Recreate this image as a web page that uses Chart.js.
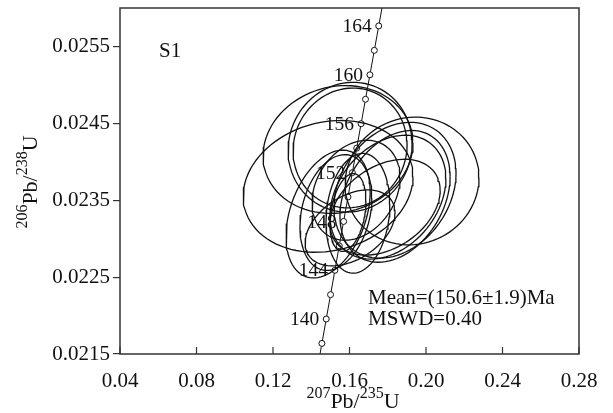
<!DOCTYPE html>
<html>
<head>
<meta charset="utf-8">
<script src="https://cdn.jsdelivr.net/npm/chart.js@4.4.1/dist/chart.umd.min.js"></script>
<style>
  html, body { margin: 0; padding: 0; background: #fff; }
  #wrap { width: 613px; height: 413px; }
</style>
</head>
<body>
<div id="wrap"><canvas id="chart"></canvas></div>
<script>
// axis ticks
const xTicks = [0.04, 0.08, 0.12, 0.16, 0.20, 0.24, 0.28];
const yTicks = [0.0215, 0.0225, 0.0235, 0.0245, 0.0255];

// concordia points, every 2 Ma
const concAges = [136, 138, 140, 142, 144, 146, 148, 150, 152, 154, 156, 158, 160, 162, 164, 166];
const concX = [0.143324, 0.145578, 0.147837, 0.150100, 0.152367, 0.154639, 0.156916, 0.159197,
               0.161482, 0.163773, 0.166067, 0.168366, 0.170670, 0.172978, 0.175291, 0.177608];
const concY = [0.021321, 0.021638, 0.021955, 0.022272, 0.022589, 0.022907, 0.023224, 0.023542,
               0.023859, 0.024177, 0.024495, 0.024813, 0.025131, 0.025449, 0.025767, 0.026085];
const labelAges = [140, 144, 148, 152, 156, 160, 164];

// error ellipses: centre, half width (207/235), half height (206/238), correlation
const ellX   = [0.1488, 0.1540, 0.1603, 0.1603, 0.1927, 0.1838, 0.1838, 0.1801,
                0.1488, 0.1529, 0.1644, 0.1592, 0.1634, 0.1603, 0.1786];
const ellY   = [0.02368, 0.02416, 0.02419, 0.02418, 0.02375, 0.02363, 0.02355, 0.02354,
                0.02332, 0.02334, 0.02333, 0.02334, 0.02363, 0.02314, 0.02341];
const ellSx  = [0.0444, 0.0392, 0.0324, 0.0298, 0.0350, 0.0319, 0.0288, 0.0303,
                0.0220, 0.0188, 0.0167, 0.0094, 0.0230, 0.0235, 0.0288];
const ellSy  = [0.000857, 0.000831, 0.000844, 0.000779, 0.000831, 0.000883, 0.000857, 0.000805,
                0.000831, 0.000753, 0.000779, 0.000506, 0.000650, 0.000494, 0.000623];
const ellRho = [0.15, 0.10, 0.05, 0.05, 0.05, 0.25, 0.30, 0.30,
                0.35, 0.25, 0.15, 0.30, 0.25, 0.40, 0.35];

const SERIF = '"Liberation Serif", "DejaVu Serif", serif';
const INK = '#111';

function ellipseOutline(i) {
  const pts = [];
  const r = ellRho[i], q = Math.sqrt(1 - r * r);
  for (let k = 0; k <= 90; k++) {
    const t = k / 90 * 2 * Math.PI;
    pts.push({
      x: ellX[i] + ellSx[i] * Math.cos(t),
      y: ellY[i] + ellSy[i] * (r * Math.cos(t) + q * Math.sin(t))
    });
  }
  return pts;
}

const datasets = ellX.map((_, i) => ({
  data: ellipseOutline(i),
  showLine: true,
  borderColor: INK,
  borderWidth: 1.3,
  pointRadius: 0,
  fill: false,
  tension: 0
}));

datasets.push({
  data: concAges.map((a, i) => ({ x: concX[i], y: concY[i] })),
  showLine: true,
  borderColor: INK,
  borderWidth: 1,
  pointRadius: 3,
  pointBorderWidth: 1,
  pointBackgroundColor: '#fff',
  pointBorderColor: INK,
  tension: 0
});

// superscript text helper: parts = [[text, isSup], ...]
function drawRich(ctx, parts, cx, cy) {
  const big = '22px ' + SERIF, small = '16px ' + SERIF;
  let w = 0;
  parts.forEach(p => { ctx.font = p[1] ? small : big; w += ctx.measureText(p[0]).width; });
  let x = cx - w / 2;
  ctx.textAlign = 'left';
  ctx.textBaseline = 'middle';
  parts.forEach(p => {
    ctx.font = p[1] ? small : big;
    ctx.fillText(p[0], x, p[1] ? cy - 8 : cy);
    x += ctx.measureText(p[0]).width;
  });
}

const decor = {
  id: 'decor',
  afterDraw(chart) {
    const { ctx, chartArea: a, scales } = chart;
    ctx.save();
    ctx.fillStyle = '#111';
    ctx.strokeStyle = '#333';

    // frame
    ctx.lineWidth = 1.5;
    ctx.strokeRect(a.left, a.top, a.right - a.left, a.bottom - a.top);

    // inward ticks on x axis
    ctx.lineWidth = 1.2;
    xTicks.forEach(v => {
      const px = scales.x.getPixelForValue(v);
      ctx.beginPath();
      ctx.moveTo(px, a.bottom);
      ctx.lineTo(px, a.bottom - 7);
      ctx.stroke();
    });

    // age labels on concordia
    ctx.font = '19.5px ' + SERIF;
    ctx.textAlign = 'right';
    ctx.textBaseline = 'middle';
    labelAges.forEach(age => {
      const i = concAges.indexOf(age);
      const px = scales.x.getPixelForValue(concX[i]);
      const py = scales.y.getPixelForValue(concY[i]);
      ctx.fillText(String(age), px - 7, py + 1);
    });

    // annotations
    ctx.font = '21px ' + SERIF;
    ctx.textAlign = 'left';
    ctx.fillText('S1', 159, 51);
    ctx.fillText('Mean=(150.6\u00b11.9)Ma', 368, 298);
    ctx.fillText('MSWD=0.40', 368, 319);

    // axis titles
    drawRich(ctx, [['207', true], ['Pb/', false], ['235', true], ['U', false]], 353, 402);
    ctx.translate(31, 182);
    ctx.rotate(-Math.PI / 2);
    drawRich(ctx, [['206', true], ['Pb/', false], ['238', true], ['U', false]], 0, 0);
    ctx.restore();
  }
};

new Chart(document.getElementById('chart'), {
  type: 'scatter',
  data: { datasets },
  options: {
    responsive: true,
    maintainAspectRatio: false,
    devicePixelRatio: 1,
    animation: false,
    layout: { padding: { left: 0, top: 8, right: 34, bottom: 0 } },
    plugins: { legend: { display: false }, tooltip: { enabled: false } },
    scales: {
      x: {
        type: 'linear',
        min: 0.04,
        max: 0.28,
        afterBuildTicks: s => { s.ticks = xTicks.map(v => ({ value: v })); },
        afterFit: s => { s.height = 59; s.paddingLeft = 0; s.paddingRight = 0; },
        grid: { drawOnChartArea: false, drawTicks: false },
        border: { display: false },
        ticks: {
          padding: 15,
          color: '#111',
          font: { family: SERIF, size: 21 },
          maxRotation: 0,
          autoSkip: false,
          callback: v => v.toFixed(2)
        }
      },
      y: {
        type: 'linear',
        min: 0.0215,
        max: 0.0260,
        afterBuildTicks: s => { s.ticks = yTicks.map(v => ({ value: v })); },
        afterFit: s => { s.width = 120; s.paddingTop = 0; s.paddingBottom = 0; },
        grid: { drawOnChartArea: false, drawTicks: true, tickLength: 7, color: '#333', lineWidth: 1.2 },
        border: { display: false },
        ticks: {
          padding: 3,
          color: '#111',
          font: { family: SERIF, size: 21 },
          autoSkip: false,
          callback: v => v.toFixed(4)
        }
      }
    }
  },
  plugins: [decor]
});
</script>
</body>
</html>
